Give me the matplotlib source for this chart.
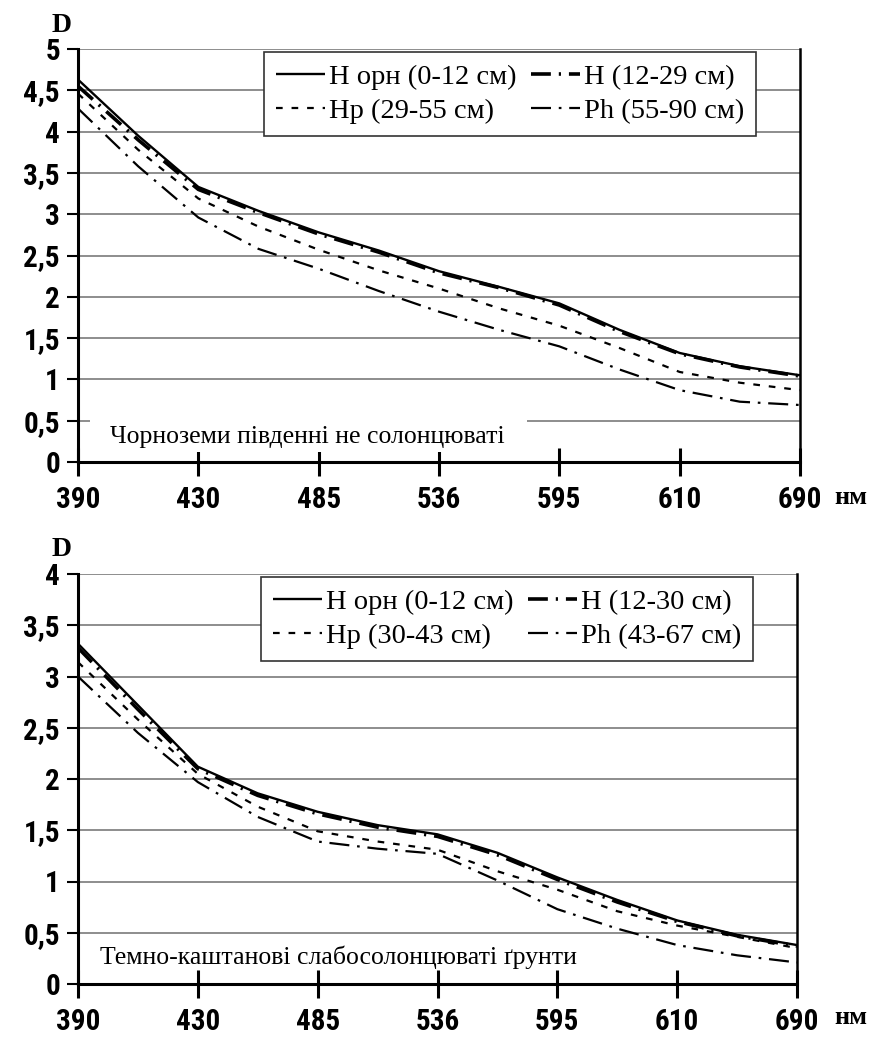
import numpy as np
import matplotlib
matplotlib.use("Agg")
import matplotlib.pyplot as plt
from matplotlib import font_manager
from matplotlib.patches import Rectangle

# ---------------- data ----------------
x_labels = ['390', '430', '485', '536', '595', '610', '690']
# sample positions along the categorical wavelength axis (category index units)
sample_pos = [0, 0.5, 1, 1.5, 2, 2.5, 3, 3.5, 4, 4.5, 5, 5.5, 6]

# Top chart: Чорноземи південні не солонцюваті
top_labels = ['H орн (0-12 см)', 'H (12-29 см)', 'Hp (29-55 см)', 'Ph (55-90 см)']
top_h_orn = [4.63, 3.95, 3.33, 3.04, 2.78, 2.56, 2.31, 2.12, 1.92, 1.60, 1.32, 1.16, 1.05]
top_h     = [4.55, 3.90, 3.30, 3.02, 2.76, 2.54, 2.29, 2.11, 1.90, 1.58, 1.31, 1.15, 1.04]
top_hp    = [4.46, 3.78, 3.19, 2.85, 2.57, 2.32, 2.10, 1.86, 1.65, 1.38, 1.09, 0.96, 0.87]
top_ph    = [4.28, 3.58, 2.96, 2.58, 2.34, 2.07, 1.82, 1.60, 1.40, 1.12, 0.87, 0.73, 0.69]
top_yticks = [0, 0.5, 1, 1.5, 2, 2.5, 3, 3.5, 4, 4.5, 5]
top_note = 'Чорноземи південні не солонцюваті'

# Bottom chart: Темно-каштанові слабосолонцюваті ґрунти
bot_labels = ['H орн (0-12 см)', 'H (12-30 см)', 'Hp (30-43 см)', 'Ph (43-67 см)']
bot_h_orn = [3.32, 2.72, 2.12, 1.86, 1.68, 1.55, 1.46, 1.28, 1.04, 0.82, 0.62, 0.48, 0.38]
bot_h     = [3.28, 2.68, 2.10, 1.84, 1.66, 1.53, 1.44, 1.26, 1.02, 0.80, 0.61, 0.47, 0.37]
bot_hp    = [3.14, 2.58, 2.05, 1.73, 1.49, 1.39, 1.31, 1.10, 0.92, 0.71, 0.57, 0.46, 0.35]
bot_ph    = [3.00, 2.45, 1.97, 1.63, 1.39, 1.32, 1.27, 1.01, 0.73, 0.54, 0.38, 0.28, 0.21]
bot_yticks = [0, 0.5, 1, 1.5, 2, 2.5, 3, 3.5, 4]
bot_note = 'Темно-каштанові слабосолонцюваті ґрунти'

# ---------------- fonts ----------------
names = {f.name for f in font_manager.fontManager.ttflist}
TICK_FONT = 'DejaVu Sans'
for cand in ['Liberation Sans Narrow', 'Roboto Condensed', 'Open Sans Condensed',
             'DejaVu Sans Condensed', 'Liberation Sans']:
    if cand in names:
        TICK_FONT = cand
        break
SERIF = 'Liberation Serif' if 'Liberation Serif' in names else 'DejaVu Serif'

W, H = 872, 1046
fig = plt.figure(figsize=(W / 100, H / 100), dpi=100)

styles = [
    dict(color='black', lw=1.7, ls='-'),
    dict(color='black', lw=2.6, ls=(0, (5.5, 2.2, 0.6, 2.2))),
    dict(color='black', lw=1.6, ls=(0, (3.0, 4.0))),
    dict(color='black', lw=1.6, ls=(0, (9.0, 3.5, 1.2, 3.5))),
]


def fmt(v):
    s = ('%g' % v)
    return s.replace('.', ',')


def draw(rect, series, labels, yticks, note, note_xy, cover, legend_ur, d_xy, nm_xy):
    ax = fig.add_axes(rect)
    ax.set_xlim(0, 6)
    ax.set_ylim(yticks[0], yticks[-1])
    for y in yticks[1:]:
        ax.axhline(y, color='#7a7a7a', lw=1.2, zorder=1)
    handles = []
    for vals, st, lab in zip(series, styles, labels):
        h, = ax.plot(sample_pos, vals, label=lab, zorder=4, solid_capstyle='butt',
                     dash_capstyle='butt', **st)
        handles.append(h)
    if cover is not None:
        ax.add_patch(Rectangle((cover[0], cover[1]), cover[2], cover[3],
                               facecolor='white', edgecolor='none', zorder=2))
    ax.text(note_xy[0], note_xy[1], note, fontsize=18.5, family=SERIF,
            ha='left', va='center', zorder=3)
    # spines
    for side in ['left', 'bottom']:
        ax.spines[side].set_linewidth(2.2)
        ax.spines[side].set_color('black')
    ax.spines['right'].set_linewidth(1.8)
    ax.spines['right'].set_color('black')
    ax.spines['top'].set_visible(False)
    ax.set_xticks(range(len(x_labels)))
    ax.set_xticklabels(x_labels)
    ax.set_yticks(yticks)
    ax.set_yticklabels([fmt(v) for v in yticks])
    ax.tick_params(axis='x', direction='inout', length=20, width=2.2, pad=7,
                   labelsize=21)
    ax.tick_params(axis='y', direction='out', length=8, width=1.5, pad=5,
                   labelsize=21)
    for t in ax.get_xticklabels() + ax.get_yticklabels():
        t.set_fontfamily(TICK_FONT)
        t.set_fontweight('bold')
    # legend
    leg = fig.legend(handles=[handles[0], handles[2], handles[1], handles[3]],
                     labels=[labels[0], labels[2], labels[1], labels[3]],
                     ncol=2, loc='upper right',
                     bbox_to_anchor=(legend_ur[0] / W, 1 - legend_ur[1] / H),
                     bbox_transform=fig.transFigure,
                     prop=dict(family=SERIF, size=20.5),
                     handlelength=1.75, handletextpad=0.12, columnspacing=0.5,
                     labelspacing=0.3, borderpad=0.42, borderaxespad=0,
                     frameon=True, fancybox=False, framealpha=1)
    leg.get_frame().set_edgecolor('#333333')
    leg.get_frame().set_linewidth(1.2)
    fig.text(d_xy[0] / W, 1 - d_xy[1] / H, 'D', family=SERIF, weight='bold',
             fontsize=20, ha='center', va='center')
    fig.text(nm_xy[0] / W, 1 - nm_xy[1] / H, 'нм', family=SERIF, weight='bold',
             fontsize=19, ha='left', va='center')
    return ax


# top chart
draw([78 / W, 1 - 462 / H, 722 / W, 413 / H],
     [top_h_orn, top_h, top_hp, top_ph], top_labels, top_yticks, top_note,
     note_xy=(0.27, 0.30), cover=(0.10, 0.12, 3.63, 0.45),
     legend_ur=(756, 52), d_xy=(62, 25), nm_xy=(834, 497))

# bottom chart
draw([78 / W, 1 - 984 / H, 719 / W, 410 / H],
     [bot_h_orn, bot_h, bot_hp, bot_ph], bot_labels, bot_yticks, bot_note,
     note_xy=(0.18, 0.26), cover=None,
     legend_ur=(753, 577), d_xy=(62, 550), nm_xy=(834, 1017))

fig.savefig('out.png', dpi=100, facecolor='white')
